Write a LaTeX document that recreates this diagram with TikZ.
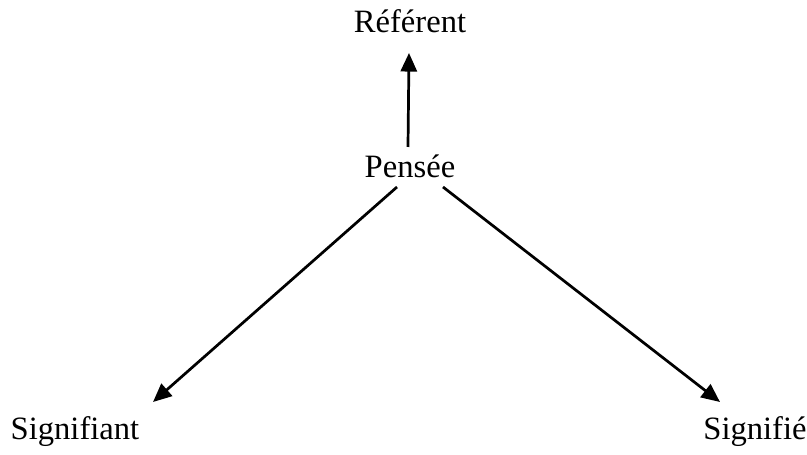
\documentclass[tikz,border=0pt]{standalone}
\usepackage{fontspec}
\setmainfont{Liberation Serif}
\usetikzlibrary{arrows.meta}
\tikzset{
    term/.style={
        inner sep=0pt,
        anchor=base,
        font=\fontsize{12}{14}\selectfont
    },
    link/.style={
        -{Triangle[length=2.4mm,width=2.1mm]},
        line width=1pt,
        draw=black
    }
}

\begin{document}
\begin{tikzpicture}[x=0.01294cm, y=-0.01294cm]
        \useasboundingbox (0,0) rectangle (807,455);

        % Top
        \node (ref) [term] at (410,33) {Référent};

        % Middle
        \node (pensee) [term] at (410,178) {Pensée};

        % Bottom
        \node (signifiant) [term] at (75,440) {Signifiant};
        \node (signifie) [term] at (755,440) {Signifié};

        % Arrows
        \draw [link] ([shift={(-2,-31)}]pensee.base) -- ([shift={(-1,20)}]ref.base);
        \draw [link] ([shift={(-13,9)}]pensee.base) -- ([shift={(78,-38)}]signifiant.base);
        \draw [link] ([shift={(33,9)}]pensee.base) -- ([shift={(-35,-38)}]signifie.base);

    \end{tikzpicture}
\end{document}
